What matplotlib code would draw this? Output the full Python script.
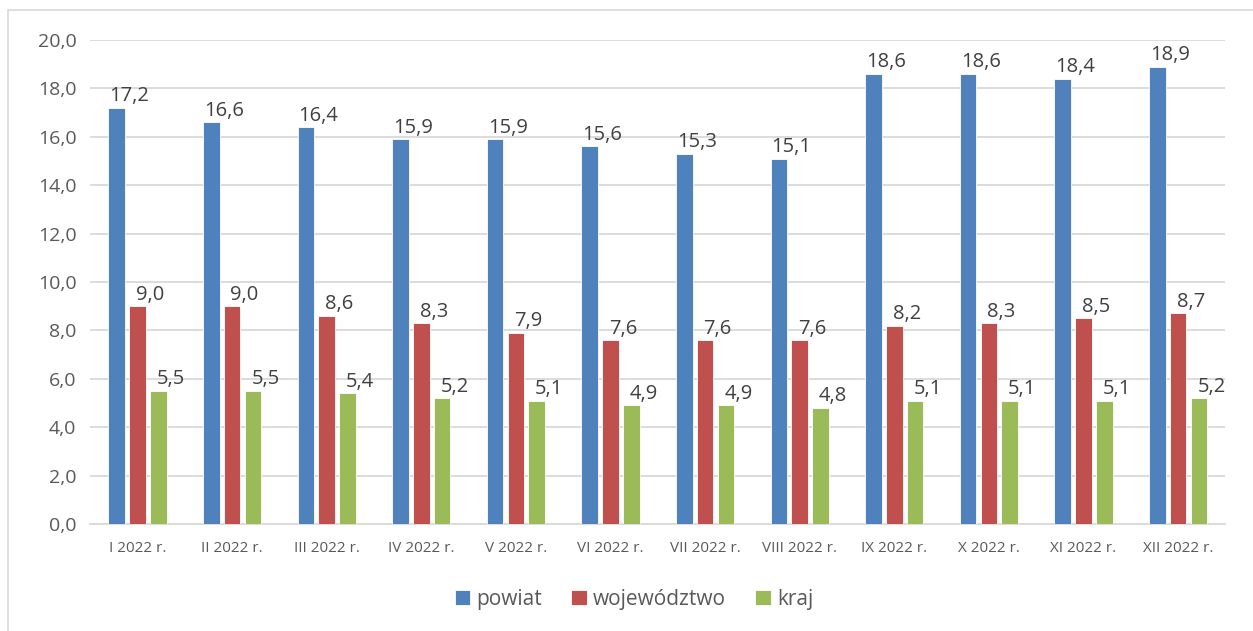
import numpy as np
import matplotlib.pyplot as plt
from matplotlib.patches import Rectangle

categories = ['I 2022 r.', 'II 2022 r.', 'III 2022 r.', 'IV 2022 r.', 'V 2022 r.', 'VI 2022 r.',
              'VII 2022 r.', 'VIII 2022 r.', 'IX 2022 r.', 'X 2022 r.', 'XI 2022 r.', 'XII 2022 r.']
powiat = [17.2, 16.6, 16.4, 15.9, 15.9, 15.6, 15.3, 15.1, 18.6, 18.6, 18.4, 18.9]
wojewodztwo = [9.0, 9.0, 8.6, 8.3, 7.9, 7.6, 7.6, 7.6, 8.2, 8.3, 8.5, 8.7]
kraj = [5.5, 5.5, 5.4, 5.2, 5.1, 4.9, 4.9, 4.8, 5.1, 5.1, 5.1, 5.2]

series = [('powiat', powiat, '#4F81BD'),
          ('województwo', wojewodztwo, '#C0504D'),
          ('kraj', kraj, '#9BBB59')]

plt.rcParams['font.family'] = ['Open Sans', 'DejaVu Sans']

fig = plt.figure(figsize=(12.53, 6.31), dpi=100)
ax = fig.add_axes([0.072, 0.1696, 0.906, 0.767])

fig.patches.append(Rectangle((0.0064, -0.01), 1.2, 0.994, transform=fig.transFigure,
                             fill=False, edgecolor='#D9D9D9', linewidth=1.2))

x = np.arange(len(categories))
w = 0.175
step = 0.22
for i, (name, vals, col) in enumerate(series):
    pos = x + (i - 1) * step
    ax.bar(pos, vals, width=w, color=col, edgecolor='white', linewidth=0.6, label=name, zorder=3)
    for p, v in zip(pos, vals):
        ax.annotate(f'{v:.1f}'.replace('.', ','), (p, v), xytext=(9, 1),
                    textcoords='offset points', ha='center', va='bottom',
                    fontsize=14.5, color='#404040', zorder=4)

ax.set_xlim(-0.5, len(categories) - 0.5)
ax.set_ylim(0, 20)
ax.set_yticks(np.arange(0, 21, 2))
ax.set_yticklabels([f'{t:.1f}'.replace('.', ',') for t in np.arange(0, 21, 2)],
                   fontsize=14, color='#595959')
ax.set_xticks(x)
ax.set_xticklabels(categories, fontsize=11, color='#595959')
ax.tick_params(axis='both', length=0)
ax.tick_params(axis='x', pad=12)
ax.tick_params(axis='y', pad=10)
ax.grid(axis='y', color='#D9D9D9', linewidth=1.3, zorder=0)
for s in ['top', 'right', 'left']:
    ax.spines[s].set_visible(False)
ax.spines['bottom'].set_color('#D9D9D9')
ax.spines['bottom'].set_linewidth(1.3)

fig.legend(loc='center', bbox_to_anchor=(0.506, 0.05), ncol=3, frameon=False,
           fontsize=15, handlelength=0.75, handleheight=0.75, handletextpad=0.3,
           columnspacing=1.4, labelcolor='#595959')

fig.savefig('out.png', dpi=100)
